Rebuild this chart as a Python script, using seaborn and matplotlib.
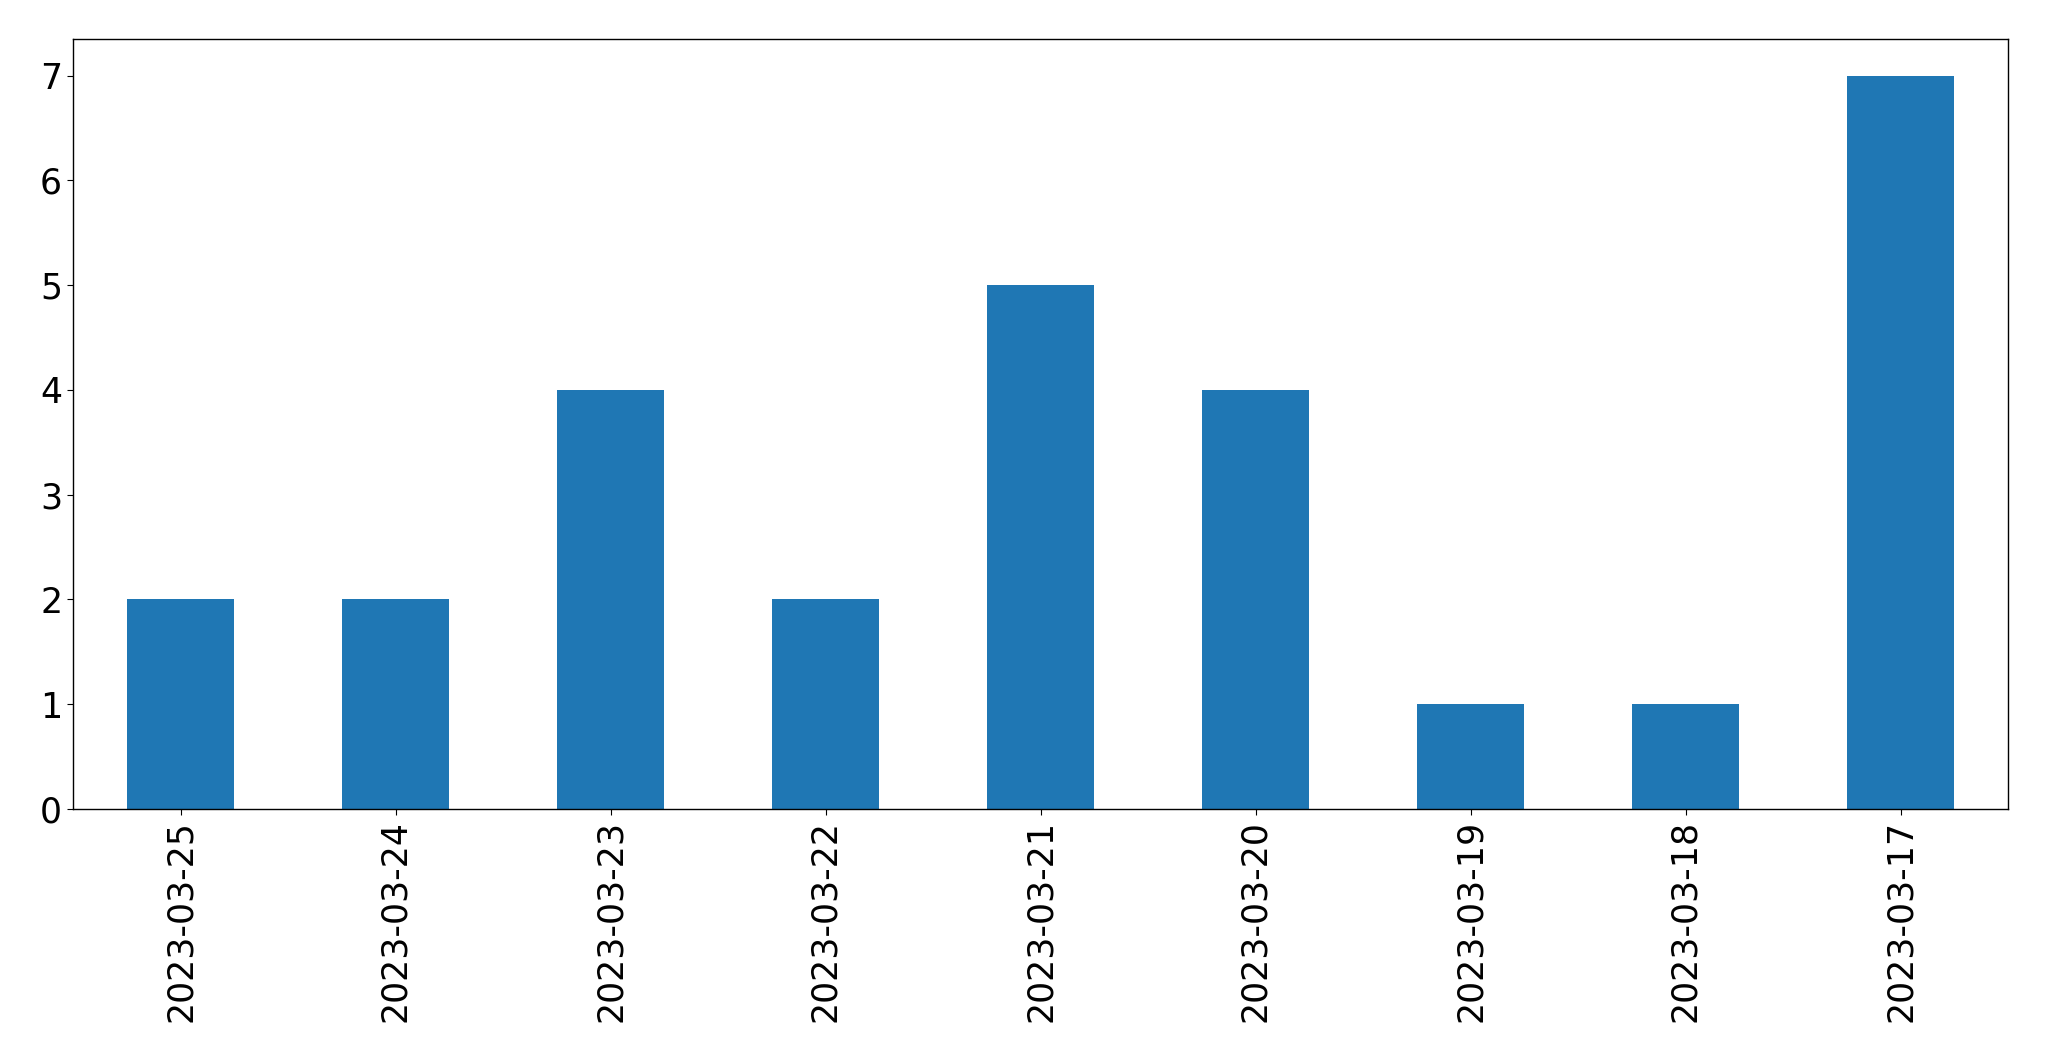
import seaborn as sns
from matplotlib import pyplot as plt

# daily counts, newest first
dates = ["2023-03-25", "2023-03-24", "2023-03-23", "2023-03-22", "2023-03-21",
         "2023-03-20", "2023-03-19", "2023-03-18", "2023-03-17"]
counts = [2, 2, 4, 2, 5, 4, 1, 1, 7]

fig = plt.figure(figsize=(20.49, 10.61), dpi=100)
ax = fig.add_axes([73 / 2049, 1 - 809 / 1061, (2008 - 73) / 2049, (809 - 39) / 1061])
sns.barplot(x=dates, y=counts, order=dates, color="#1f77b4", saturation=1,
            width=0.5, linewidth=0, ax=ax)
ax.set_xlim(-0.5, 8.5)
ax.set_ylim(0, 7.35)
ax.tick_params(axis="both", labelsize=25, length=4.3)
ax.tick_params(axis="x", labelrotation=90)
for s in ax.spines.values():
    s.set_visible(True)
    s.set_linewidth(1)

fig.savefig("out.png", dpi=100)
